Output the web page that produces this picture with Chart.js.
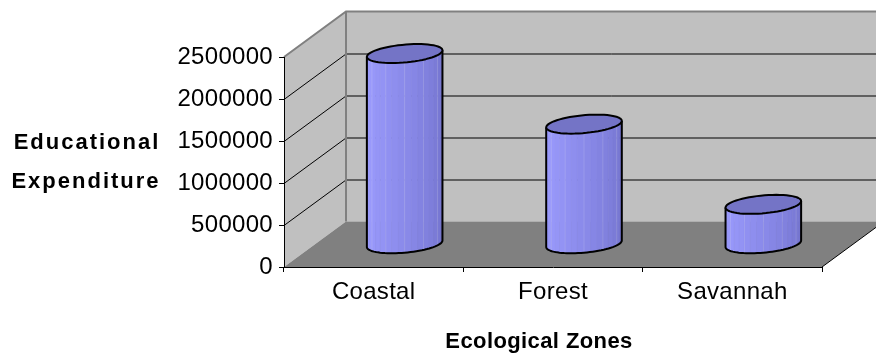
<!DOCTYPE html>
<html>
<head>
<meta charset="utf-8">
<script src="https://cdn.jsdelivr.net/npm/chart.js@4/dist/chart.umd.min.js"></script>
<style>
  html, body { margin: 0; padding: 0; background: #fff; }
  #wrap { width: 876px; height: 356px; }
</style>
</head>
<body>
<div id="wrap"><canvas id="zones"></canvas></div>
<script>
// Số liệu chi tiêu giáo dục theo vùng sinh thái
const zones = ['Coastal', 'Forest', 'Savannah'];
const expenditure = [2270000, 1430000, 475000];
const yTicks = [0, 500000, 1000000, 1500000, 2000000, 2500000];

// Độ sâu của khung 3D (dịch chuyển của tường sau so với mặt trước)
const DEPTH_X = 62;
const DEPTH_Y = 45.5;
const FONT = 'Liberation Sans, Arial, sans-serif';

// Vẽ tường, sàn và lưới 3D phía sau các trục
const wallsPlugin = {
    id: 'walls',
    beforeDraw(chart) {
        const ctx = chart.ctx;
        const { left: L, right: R, top: T, bottom: B } = chart.chartArea;
        const y = chart.scales.y;
        ctx.letterSpacing = '0.3px';
        ctx.save();
        // tường trái
        ctx.fillStyle = '#c0c0c0';
        ctx.beginPath();
        ctx.moveTo(L, T);
        ctx.lineTo(L + DEPTH_X, T - DEPTH_Y);
        ctx.lineTo(L + DEPTH_X, B - DEPTH_Y);
        ctx.lineTo(L, B);
        ctx.closePath();
        ctx.fill();
        // tường sau
        ctx.fillRect(L + DEPTH_X, T - DEPTH_Y, R - L, B - T);
        // sàn
        ctx.fillStyle = '#808080';
        ctx.beginPath();
        ctx.moveTo(L, B);
        ctx.lineTo(R, B);
        ctx.lineTo(R + DEPTH_X, B - DEPTH_Y);
        ctx.lineTo(L + DEPTH_X, B - DEPTH_Y);
        ctx.closePath();
        ctx.fill();

        // đường lưới
        ctx.strokeStyle = '#000';
        ctx.lineWidth = 1;
        yTicks.forEach(v => {
            if (v === yTicks[0] || v === yTicks[yTicks.length - 1]) return;
            const py = Math.round(y.getPixelForValue(v)) + 0.5;
            ctx.beginPath();
            ctx.moveTo(L, py);
            ctx.lineTo(L + DEPTH_X, py - DEPTH_Y);
            ctx.lineTo(R + DEPTH_X, py - DEPTH_Y);
            ctx.stroke();
        });

        // viền tường màu xám
        ctx.strokeStyle = '#808080';
        ctx.lineWidth = 2;
        ctx.beginPath();
        ctx.moveTo(L, T);
        ctx.lineTo(L + DEPTH_X, T - DEPTH_Y);
        ctx.lineTo(R + DEPTH_X, T - DEPTH_Y);
        ctx.moveTo(L + DEPTH_X, T - DEPTH_Y);
        ctx.lineTo(L + DEPTH_X, B - DEPTH_Y);
        ctx.stroke();

        // cạnh phải của sàn
        ctx.strokeStyle = '#000';
        ctx.lineWidth = 1;
        ctx.beginPath();
        ctx.moveTo(R, B);
        ctx.lineTo(R + DEPTH_X, B - DEPTH_Y);
        ctx.stroke();
        ctx.restore();
    },
    afterDraw(chart) {
        // tiêu đề hai trục
        const ctx = chart.ctx;
        ctx.save();
        ctx.fillStyle = '#000';
        ctx.font = 'bold 22px ' + FONT;
        ctx.textAlign = 'center';
        ctx.textBaseline = 'middle';
        ctx.letterSpacing = '2px';
        ctx.fillText('Educational', 87, 143);
        ctx.fillText('Expenditure', 86, 182);
        ctx.letterSpacing = '0.4px';
        ctx.fillText('Ecological Zones', 539, 342);
        ctx.restore();
    }
};

function mix(c1, c2, f) {
    return 'rgb(' + c1.map((v, i) => Math.round(v + (c2[i] - v) * f)).join(',') + ')';
}

// Vẽ một hình trụ tại vị trí cột
function drawCylinder(ctx, cx, yTop, yBot, a, b, c) {
    const pt = (t, yc) => [cx + a * Math.cos(t) + b * Math.sin(t), yc - c * Math.sin(t)];
    const t0 = Math.atan2(b, a);
    const N = 18;
    const light = [156, 156, 255], dark = [112, 112, 202];

    // các mặt bên
    for (let i = 0; i < N; i++) {
        const ta = t0 + Math.PI + Math.PI * i / N;
        const tb = t0 + Math.PI + Math.PI * (i + 1) / N;
        const p1 = pt(ta, yTop), p2 = pt(tb, yTop), p3 = pt(tb, yBot), p4 = pt(ta, yBot);
        const f = Math.pow((i + 0.5) / N, 1.3);
        ctx.fillStyle = mix(light, dark, f);
        ctx.strokeStyle = ctx.fillStyle;
        ctx.lineWidth = 0.6;
        ctx.beginPath();
        ctx.moveTo(p1[0], p1[1]);
        ctx.lineTo(p2[0], p2[1]);
        ctx.lineTo(p3[0], p3[1]);
        ctx.lineTo(p4[0], p4[1]);
        ctx.closePath();
        ctx.fill();
        ctx.stroke();
        if (i > 0 && i % 3 === 0) {
            ctx.strokeStyle = 'rgba(255,255,255,0.25)';
            ctx.beginPath();
            ctx.moveTo(p1[0], p1[1]);
            ctx.lineTo(p4[0], p4[1]);
            ctx.stroke();
        }
    }

    // đường viền thân
    ctx.strokeStyle = '#000';
    ctx.lineWidth = 2;
    ctx.lineJoin = 'round';
    ctx.beginPath();
    let p = pt(t0 + Math.PI, yTop);
    ctx.moveTo(p[0], p[1]);
    p = pt(t0 + Math.PI, yBot);
    ctx.lineTo(p[0], p[1]);
    for (let k = 1; k <= 40; k++) {
        p = pt(t0 + Math.PI + Math.PI * k / 40, yBot);
        ctx.lineTo(p[0], p[1]);
    }
    p = pt(t0, yTop);
    ctx.lineTo(p[0], p[1]);
    ctx.stroke();

    // mặt trên
    ctx.fillStyle = '#7474c6';
    ctx.beginPath();
    for (let k = 0; k <= 60; k++) {
        p = pt(2 * Math.PI * k / 60, yTop);
        if (k === 0) ctx.moveTo(p[0], p[1]); else ctx.lineTo(p[0], p[1]);
    }
    ctx.closePath();
    ctx.fill();
    ctx.stroke();
}

const cylinderPlugin = {
    id: 'cylinders',
    afterDatasetsDraw(chart) {
        const ctx = chart.ctx;
        const meta = chart.getDatasetMeta(0);
        const c = 9.5;
        const b = c * DEPTH_X / DEPTH_Y;
        ctx.save();
        meta.data.forEach(bar => {
            const a = bar.width / 2;
            drawCylinder(ctx, bar.x + DEPTH_X / 2, bar.y - DEPTH_Y / 2, bar.base - DEPTH_Y / 2, a, b, c);
        });
        ctx.restore();
    }
};

const ctx = document.getElementById('zones').getContext('2d');
const chart = new Chart(ctx, {
    type: 'bar',
    data: {
        labels: zones,
        datasets: [{
            data: expenditure,
            backgroundColor: 'rgba(0,0,0,0)',
            borderWidth: 0,
            categoryPercentage: 1,
            barPercentage: 0.396
        }]
    },
    options: {
        responsive: true,
        maintainAspectRatio: false,
        animation: false,
        layout: {
            padding: { top: 57, right: 54, left: 0, bottom: 0 }
        },
        scales: {
            y: {
                min: 0,
                max: 2500000,
                afterFit: s => { s.width = 284; },
                afterBuildTicks: s => { s.ticks = yTicks.map(v => ({ value: v })); },
                ticks: {
                    color: '#000',
                    padding: 6,
                    font: { family: FONT, size: 24 },
                    callback: v => String(v)
                },
                grid: {
                    drawOnChartArea: false,
                    drawTicks: true,
                    tickLength: 5,
                    color: '#000'
                },
                border: { display: true, color: '#000', width: 1 }
            },
            x: {
                afterFit: s => { s.height = 89; },
                ticks: {
                    color: '#000',
                    padding: 6,
                    font: { family: FONT, size: 24 }
                },
                grid: {
                    offset: true,
                    drawOnChartArea: false,
                    drawTicks: true,
                    tickLength: 5,
                    color: '#000'
                },
                border: { display: true, color: '#000', width: 1 }
            }
        },
        plugins: {
            legend: { display: false },
            tooltip: { enabled: false }
        }
    },
    plugins: [wallsPlugin, cylinderPlugin]
});
</script>
</body>
</html>
